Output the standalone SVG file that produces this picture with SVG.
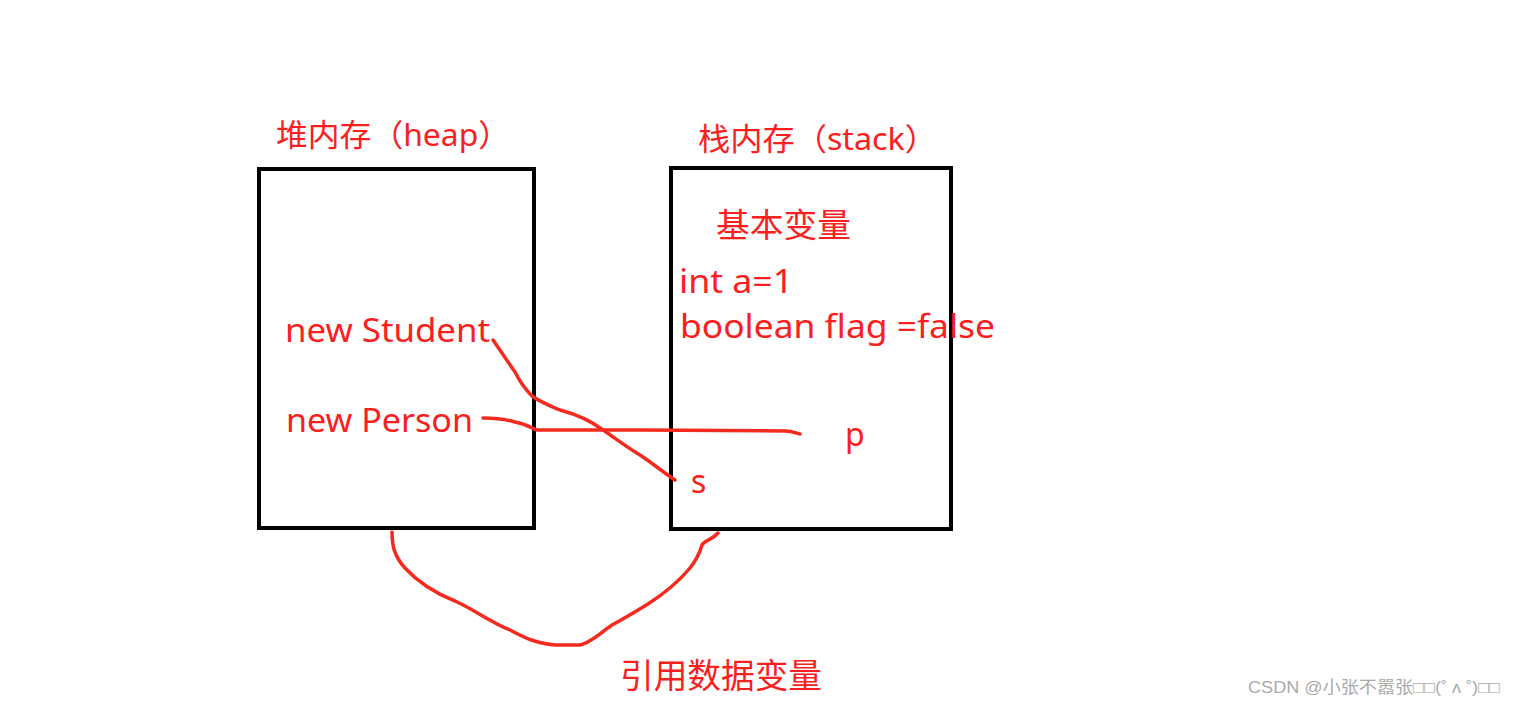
<svg xmlns="http://www.w3.org/2000/svg" width="1516" height="706" viewBox="0 0 1516 706">
<style>
.box{fill:none;stroke:#000;stroke-width:4}
.t{fill:#fa2020;font-family:"Noto Sans","Noto Sans CJK SC",sans-serif}
.ln{fill:none;stroke:#f52a1e;stroke-width:3.5;stroke-linecap:round;stroke-linejoin:round}
.wm{fill:#aaa;font-family:"Liberation Sans","Noto Sans CJK SC",sans-serif;font-size:17px}
</style>
<rect width="1516" height="706" fill="#fff"/>
<g id="heap">
<rect class="box" x="259" y="169" width="275" height="359"/>
<text class="t" x="276" y="146" font-size="31" textLength="234" lengthAdjust="spacingAndGlyphs">堆内存（heap）</text>
<text class="t" x="285" y="342" font-size="32" textLength="205" lengthAdjust="spacingAndGlyphs">new Student</text>
<text class="t" x="286" y="432" font-size="32" textLength="187" lengthAdjust="spacingAndGlyphs">new Person</text>
</g>
<g id="stack">
<rect class="box" x="671" y="168" width="280" height="361"/>
<text class="t" x="698" y="150" font-size="31" textLength="239" lengthAdjust="spacingAndGlyphs">栈内存（stack）</text>
<text class="t" x="716" y="237" font-size="33" textLength="135" lengthAdjust="spacingAndGlyphs">基本变量</text>
<text class="t" x="679" y="293" font-size="32" textLength="114" lengthAdjust="spacingAndGlyphs">int a=1</text>
<text class="t" x="680" y="338" font-size="32" textLength="315" lengthAdjust="spacingAndGlyphs">boolean flag =false</text>
<text class="t" x="845" y="446" font-size="32">p</text>
<text class="t" x="691" y="493" font-size="32">s</text>
</g>
<g id="label-ref">
<text class="t" x="620" y="688" font-size="34" textLength="202" lengthAdjust="spacingAndGlyphs">引用数据变量</text>
</g>
<g id="connectors">
<path class="ln" d="M493,340 C500,350 508,362 515,372 C520,382 526,390 532,396 C540,402 548,405 560,410 C575,414 590,420 603,430 C615,438 625,446 640,455 C652,463 663,472 675,480"/>
<path class="ln" d="M483,418 C495,418 505,419 515,422 C525,424 530,427 537,430 L640,430 L785,431 C792,431 796,433 800,434"/>
<path class="ln" d="M392,532 C392,545 394,556 405,568 C418,582 432,592 455,601 C475,610 490,622 510,630 C525,638 535,643 555,645 L580,645 C592,642 600,633 612,625 C625,618 635,612 648,604 C665,593 680,580 690,568 C698,558 700,552 702,545 C705,540 712,540 718,533"/>
</g>
<text class="wm" x="1248" y="693" textLength="252" lengthAdjust="spacingAndGlyphs">CSDN @小张不嚣张□□(˚ ʌ ˚)□□</text>
</svg>
